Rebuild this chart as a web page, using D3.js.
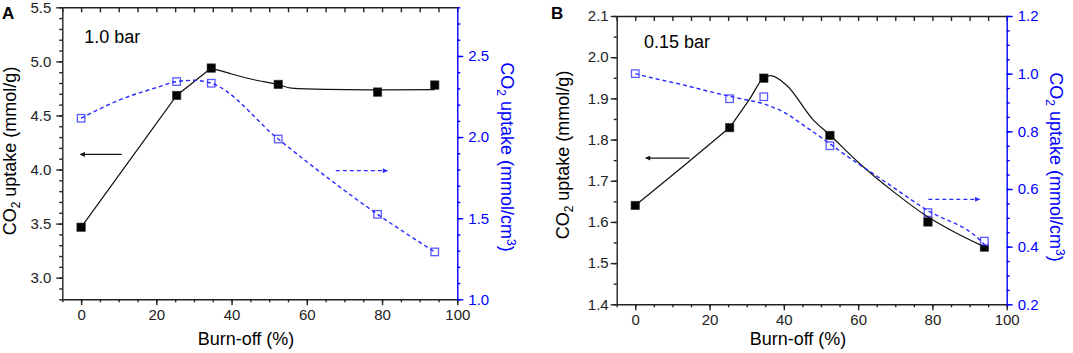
<!DOCTYPE html>
<html>
<head>
<meta charset="utf-8">
<script src="https://cdn.jsdelivr.net/npm/d3@7"></script>
<style>
  body { margin: 0; background: #fff; }
  svg text { font-family: "Liberation Sans", Arial, Helvetica, sans-serif; }
</style>
</head>
<body>
<svg id="chart"></svg>
<script>
// measured samples (burn-off %)
const burnOff = [0, 25.4, 34.6, 52.4, 78.8, 94.0];

// panel A, 1.0 bar
const gravA = [3.466, 4.685, 4.938, 4.787, 4.716, 4.781];   // mmol/g
const volA  = [2.116, 2.342, 2.332, 1.988, 1.524, 1.292];   // mmol/cm3
const gravFitAx = [0, 25.4, 34.6, 39.5, 46, 52.3, 55.9, 65, 80, 94];
const gravFitAy = [3.466, 4.685, 4.938, 4.889, 4.83, 4.787, 4.752, 4.741, 4.737, 4.738];
const volFitAx = [0, 10, 20, 25.4, 30, 34.6, 52.4, 78.8, 94];
const volFitAy = [2.116, 2.227, 2.305, 2.342, 2.350, 2.332, 1.988, 1.524, 1.292];

// panel B, 0.15 bar
const gravB = [1.640, 1.829, 1.949, 1.810, 1.600, 1.539];
const volB  = [1.000, 0.913, 0.920, 0.750, 0.518, 0.419];
const gravFitBx = [0, 13, 25.5, 30.9, 34.5, 36.4, 40.6, 47.9, 52.4, 60, 70, 78.5, 85, 93.9];
const gravFitBy = [1.640, 1.736, 1.830, 1.900, 1.949, 1.955, 1.933, 1.848, 1.811, 1.745, 1.670, 1.614, 1.580, 1.540];
const volFitBx = [0, 4, 12.9, 21.9, 29.1, 33.6, 40, 46, 52.4, 54.7, 65.9, 78.5, 92.8, 94.1];
const volFitBy = [1.000, 0.987, 0.961, 0.932, 0.911, 0.899, 0.866, 0.815, 0.757, 0.735, 0.637, 0.527, 0.423, 0.406];

// axis ticks
const xDomain = [-5, 100];
const xMajor = [0, 20, 40, 60, 80, 100];
const xMinor = d3.range(-5, 100.01, 5);
const yLeftTicksA = [3.0, 3.5, 4.0, 4.5, 5.0, 5.5];
const yRightTicksA = [1.0, 1.5, 2.0, 2.5];
const yLeftTicksB = [1.4, 1.5, 1.6, 1.7, 1.8, 1.9, 2.0, 2.1];
const yRightTicksB = [0.2, 0.4, 0.6, 0.8, 1.0, 1.2];

// arrows [x from, x to, y]
const arrowsA = { left: [10.8, -0.2, 4.14], right: [67.7, 81.4, 1.793] };
const arrowsB = { left: [14.6, 2.8, 1.755], right: [78.9, 92.7, 0.564] };

const BLUE = "#0000ff";
const BLUE_LINE = "#2a2aff";
const BLUE_MARK = "#5a5aff";

const svg = d3.select("#chart").attr("width", 1073).attr("height", 353);

const defs = svg.append("defs");
[["headBlack", "#111"], ["headBlue", BLUE_LINE]].forEach(([id, c]) => {
  defs.append("marker")
    .attr("id", id)
    .attr("viewBox", "0 0 10 10")
    .attr("refX", 9).attr("refY", 5)
    .attr("markerUnits", "userSpaceOnUse")
    .attr("markerWidth", 6).attr("markerHeight", 5)
    .attr("orient", "auto")
    .append("path").attr("d", "M0,0L10,5L0,10z").attr("fill", c);
});

const styleAxis = (sel, color) => {
  sel.selectAll("path, line").attr("stroke", color).attr("stroke-width", 1.4);
  sel.selectAll("text").attr("fill", color).style("font-size", "15px");
};

const drawPanel = (p) => {
  const g = svg.append("g");
  const x = d3.scaleLinear().domain(xDomain).range([p.left, p.right]);
  const yL = d3.scaleLinear().domain(p.yLeftDomain).range([p.bottom, p.top]);
  const yR = d3.scaleLinear().domain(p.yRightDomain).range([p.bottom, p.top]);

  // bottom
  g.append("g").attr("transform", `translate(0,${p.bottom})`)
    .call(d3.axisBottom(x).tickValues(xMinor).tickSize(3).tickFormat("").tickSizeOuter(0))
    .call(a => { a.select(".domain").remove(); styleAxis(a, "#222"); });
  g.append("g").attr("transform", `translate(0,${p.bottom})`)
    .call(d3.axisBottom(x).tickValues(xMajor).tickSize(6).tickPadding(4).tickSizeOuter(0).tickFormat(d3.format("d")))
    .call(a => styleAxis(a, "#222"));

  // top (ticks inward)
  g.append("g").attr("transform", `translate(0,${p.top})`)
    .call(d3.axisTop(x).tickValues(xMinor).tickSize(-5).tickFormat("").tickSizeOuter(0))
    .call(a => styleAxis(a, "#222"));

  // left
  g.append("g").attr("transform", `translate(${p.left},0)`)
    .call(d3.axisLeft(yL).tickValues(d3.range(p.yLeftDomain[0], p.yLeftDomain[1] + 1e-6, p.yLeftMinor)).tickSize(3).tickFormat("").tickSizeOuter(0))
    .call(a => { a.select(".domain").remove(); styleAxis(a, "#222"); });
  g.append("g").attr("transform", `translate(${p.left},0)`)
    .call(d3.axisLeft(yL).tickValues(p.yLeftTicks).tickSize(6).tickPadding(p.leftPad).tickSizeOuter(0).tickFormat(d3.format(".1f")))
    .call(a => styleAxis(a, "#222"));

  // right (blue)
  g.append("g").attr("transform", `translate(${p.right},0)`)
    .call(d3.axisRight(yR).tickValues(d3.range(p.yRightDomain[0], p.yRightDomain[1] + 1e-6, p.yRightMinor)).tickSize(3).tickFormat("").tickSizeOuter(0))
    .call(a => { a.select(".domain").remove(); styleAxis(a, BLUE); });
  g.append("g").attr("transform", `translate(${p.right},0)`)
    .call(d3.axisRight(yR).tickValues(p.yRightTicks).tickSize(6).tickPadding(5).tickSizeOuter(0).tickFormat(d3.format(".1f")))
    .call(a => styleAxis(a, BLUE));

  // markers
  const s = 8.5;
  g.append("g").selectAll("rect")
    .data(d3.zip(burnOff, p.grav))
    .join("rect")
    .attr("x", d => x(d[0]) - s / 2).attr("y", d => yL(d[1]) - s / 2)
    .attr("width", s).attr("height", s)
    .attr("fill", "#000").attr("stroke", "#444").attr("stroke-width", 0.6);

  g.append("g").selectAll("rect")
    .data(d3.zip(burnOff, p.vol))
    .join("rect")
    .attr("x", d => x(d[0]) - (s - 1) / 2).attr("y", d => yR(d[1]) - (s - 1) / 2)
    .attr("width", s - 1).attr("height", s - 1)
    .attr("fill", "#fff").attr("stroke", BLUE_MARK).attr("stroke-width", 1.3);

  // fitted curves: straight part first, smooth part after
  const fitL = d3.zip(p.gravFitX, p.gravFitY);
  const straight = fitL.filter(d => d[0] <= p.linearTo);
  const smooth = fitL.filter(d => d[0] >= p.linearTo);
  const lineStraight = d3.line().x(d => x(d[0])).y(d => yL(d[1]));
  const lineL = d3.line().x(d => x(d[0])).y(d => yL(d[1])).curve(d3.curveMonotoneX);
  const lineR = d3.line().x(d => x(d[0])).y(d => yR(d[1])).curve(d3.curveMonotoneX);

  [lineStraight(straight), lineL(smooth)].forEach(dPath => {
    g.append("path")
      .attr("d", dPath)
      .attr("fill", "none").attr("stroke", "#111").attr("stroke-width", 1.2);
  });
  g.append("path")
    .attr("d", lineR(d3.zip(p.volFitX, p.volFitY)))
    .attr("fill", "none").attr("stroke", BLUE_LINE).attr("stroke-width", 1.4)
    .attr("stroke-dasharray", "4,3");

  // arrows
  const aL = p.arrows.left, aR = p.arrows.right;
  g.append("line")
    .attr("x1", x(aL[0])).attr("x2", x(aL[1])).attr("y1", yL(aL[2])).attr("y2", yL(aL[2]))
    .attr("stroke", "#111").attr("stroke-width", 1.2).attr("marker-end", "url(#headBlack)");
  g.append("line")
    .attr("x1", x(aR[0])).attr("x2", x(aR[1])).attr("y1", yR(aR[2])).attr("y2", yR(aR[2]))
    .attr("stroke", BLUE_LINE).attr("stroke-width", 1.4).attr("stroke-dasharray", "4,3")
    .attr("marker-end", "url(#headBlue)");

  // titles
  const lt = g.append("text")
    .attr("transform", `translate(${p.leftTitleX},${p.leftTitleY}) rotate(-90)`)
    .attr("text-anchor", "middle").style("font-size", "18px").attr("fill", "#000");
  lt.append("tspan").text("CO");
  lt.append("tspan").text("2").style("font-size", "12px").attr("dy", 4);
  lt.append("tspan").text(" uptake (mmol/g)").attr("dy", -4);

  const rt = g.append("text")
    .attr("transform", `translate(${p.rightTitleX},${p.rightTitleY}) rotate(90)`)
    .attr("text-anchor", "middle").style("font-size", "18px").attr("fill", BLUE);
  rt.append("tspan").text("CO");
  rt.append("tspan").text("2").style("font-size", "12px").attr("dy", 4);
  rt.append("tspan").text(" uptake (mmol/cm").attr("dy", -4);
  rt.append("tspan").text("3").style("font-size", "12px").attr("dy", -6);
  rt.append("tspan").text(")").attr("dy", 6);

  g.append("text")
    .attr("x", p.xTitleX).attr("y", 345)
    .attr("text-anchor", "middle").style("font-size", "18px")
    .text("Burn-off (%)");

  g.append("text")
    .attr("x", p.noteX).attr("y", p.noteY)
    .style("font-size", "18px")
    .text(p.note);

  g.append("text")
    .attr("x", p.letterX).attr("y", 19)
    .style("font-size", "17px").style("font-weight", "bold")
    .text(p.letter);
};

drawPanel({
  left: 62.3, right: 457.3, top: 7.3, bottom: 299.3,
  yLeftDomain: [2.8, 5.5], yLeftTicks: yLeftTicksA, yLeftMinor: 0.1, leftPad: 5,
  yRightDomain: [1.0, 2.8], yRightTicks: yRightTicksA, yRightMinor: 0.1,
  grav: gravA, vol: volA,
  gravFitX: gravFitAx, gravFitY: gravFitAy, volFitX: volFitAx, volFitY: volFitAy,
  linearTo: 34.6,
  arrows: arrowsA,
  leftTitleX: 16, leftTitleY: 151, rightTitleX: 501, rightTitleY: 157,
  xTitleX: 246, note: "1.0 bar", noteX: 84.3, noteY: 43.3,
  letter: "A", letterX: 2
});

drawPanel({
  left: 616.7, right: 1006.7, top: 16, bottom: 304.3,
  yLeftDomain: [1.4, 2.1], yLeftTicks: yLeftTicksB, yLeftMinor: 0.05, leftPad: 2,
  yRightDomain: [0.2, 1.2], yRightTicks: yRightTicksB, yRightMinor: 0.05,
  grav: gravB, vol: volB,
  gravFitX: gravFitBx, gravFitY: gravFitBy, volFitX: volFitBx, volFitY: volFitBy,
  linearTo: 25.5,
  arrows: arrowsB,
  leftTitleX: 569, leftTitleY: 155, rightTitleX: 1050, rightTitleY: 167,
  xTitleX: 798, note: "0.15 bar", noteX: 644, noteY: 48.3,
  letter: "B", letterX: 551
});
</script>
</body>
</html>
